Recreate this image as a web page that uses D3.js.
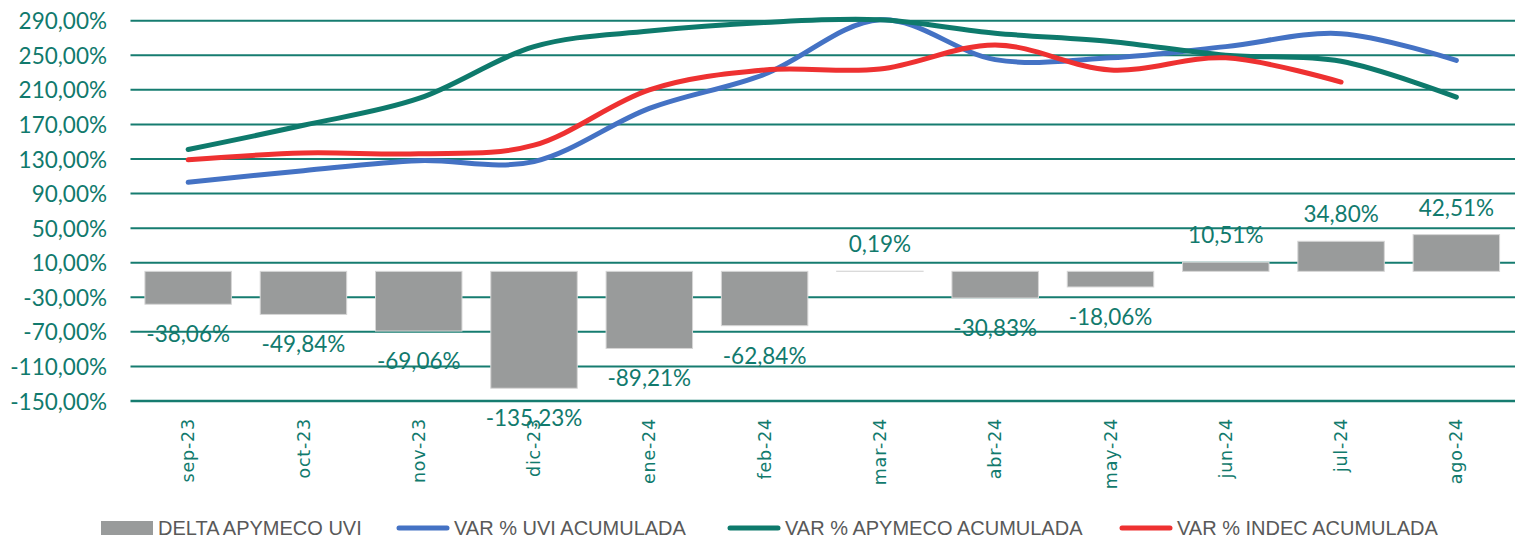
<!DOCTYPE html>
<html>
<head>
<meta charset="utf-8">
<script src="https://cdn.jsdelivr.net/npm/d3@7"></script>
<style>
  html, body { margin: 0; padding: 0; background: #ffffff; }
  svg { display: block; }
</style>
</head>
<body>
<svg id="chart" width="1529" height="541"></svg>
<script>
const categories = ["sep-23","oct-23","nov-23","dic-23","ene-24","feb-24","mar-24","abr-24","may-24","jun-24","jul-24","ago-24"];
const deltaApymecoUvi = [-38.06, -49.84, -69.06, -135.23, -89.21, -62.84, 0.19, -30.83, -18.06, 10.51, 34.80, 42.51];
const varUviAcumulada = [103, 116.5, 128, 127, 188.5, 228, 291, 245, 247, 260, 275, 244];
const varApymecoAcumulada = [141, 169, 200, 260, 278, 288, 291, 275.5, 266, 250, 243, 201.5];
const varIndecAcumulada = [129, 137, 136, 146, 210, 233, 234, 262, 233, 247, 219, null];
const yTicks = [-150, -110, -70, -30, 10, 50, 90, 130, 170, 210, 250, 290];
const seriesNames = ["DELTA APYMECO UVI", "VAR % UVI ACUMULADA", "VAR % APYMECO ACUMULADA", "VAR % INDEC ACUMULADA"];

(function () {
const TEAL = "#117a6d";
const GRID = "#167c70";
const GRAY = "#999b9b";
const BLUE = "#4472c4";
const GREEN = "#0e7a6c";
const RED = "#ee3131";

const svg = d3.select("#chart");
const pLeft = 130.5, pRight = 1514, pTop = 20.7, pBottom = 401;

const x = d3.scaleBand().domain(categories).range([pLeft, pRight]).paddingInner(0.25).paddingOuter(0.125);
const y = d3.scaleLinear().domain([-150, 290]).range([pBottom, pTop]);
const fmt = v => v.toFixed(2).replace(".", ",") + "%";

// gridlines
svg.append("g").selectAll("line").data(yTicks).join("line")
  .attr("x1", pLeft).attr("x2", pRight + 1)
  .attr("y1", d => y(d)).attr("y2", d => y(d))
  .attr("stroke", GRID).attr("stroke-width", d => d === -150 ? 2.5 : 2);

// y axis labels
const yAxis = d3.axisLeft(y).tickValues(yTicks).tickSize(0).tickPadding(0).tickFormat(fmt);
const yg = svg.append("g").attr("transform", "translate(107,0)").call(yAxis);
yg.select(".domain").remove();
yg.selectAll("text").attr("fill", TEAL).attr("font-family", "Lato").attr("font-size", 22.5).attr("dy", "0.36em");

// x axis labels
const xAxis = d3.axisBottom(x).tickSize(0).tickPadding(0);
const xg = svg.append("g").attr("transform", "translate(0,418)").call(xAxis);
xg.select(".domain").remove();
xg.selectAll("text")
  .attr("fill", TEAL).attr("font-family", "DejaVu Sans").attr("font-size", 17.5)
  .attr("letter-spacing", "0.8px")
  .attr("text-anchor", "end").attr("dy", "0.35em").attr("y", 0).attr("x", 0)
  .attr("transform", "rotate(-90)");

// bars
svg.append("g").selectAll("rect").data(deltaApymecoUvi).join("rect")
  .attr("x", (d, i) => x(categories[i]))
  .attr("width", x.bandwidth())
  .attr("y", d => y(Math.max(0, d)))
  .attr("height", d => Math.abs(y(d) - y(0)))
  .attr("fill", GRAY).attr("stroke", "#d6d6d6").attr("stroke-width", 1);

// bar labels
svg.append("g").selectAll("text").data(deltaApymecoUvi).join("text")
  .attr("x", (d, i) => x(categories[i]) + x.bandwidth() / 2)
  .attr("y", d => d >= 0 ? y(d) - 19 : y(d) + 38)
  .attr("text-anchor", "middle")
  .attr("fill", TEAL).attr("font-family", "Lato").attr("font-size", 22.5)
  .text(fmt);

// lines
const cx = i => x(categories[i]) + x.bandwidth() / 2;
const line = d3.line()
  .defined(d => d != null)
  .x((d, i) => cx(i))
  .y(d => y(d))
  .curve(d3.curveCardinal.tension(0));

[[varUviAcumulada, BLUE], [varApymecoAcumulada, GREEN], [varIndecAcumulada, RED]].forEach(([data, color]) => {
  svg.append("path")
    .datum(data)
    .attr("d", line)
    .attr("fill", "none").attr("stroke", color).attr("stroke-width", 5)
    .attr("stroke-linecap", "round").attr("stroke-linejoin", "round");
});

// legend
const legY = 528;
const leg = svg.append("g");
const legendStarts = [101, 397, 728, 1120];
const legendColors = [GRAY, BLUE, GREEN, RED];
seriesNames.forEach((name, i) => {
  const sx = legendStarts[i];
  if (i === 0) {
    leg.append("rect").attr("x", sx).attr("y", legY - 7).attr("width", 52).attr("height", 14).attr("fill", GRAY);
  } else {
    leg.append("line").attr("x1", sx + 2).attr("x2", sx + 50).attr("y1", legY).attr("y2", legY)
      .attr("stroke", legendColors[i]).attr("stroke-width", 5).attr("stroke-linecap", "round");
  }
  leg.append("text").attr("x", sx + 57).attr("y", legY).attr("dy", "0.36em")
    .attr("fill", "#595959").attr("font-family", "Liberation Sans").attr("font-size", 20)
    .text(name);
});
})();
</script>
</body>
</html>
